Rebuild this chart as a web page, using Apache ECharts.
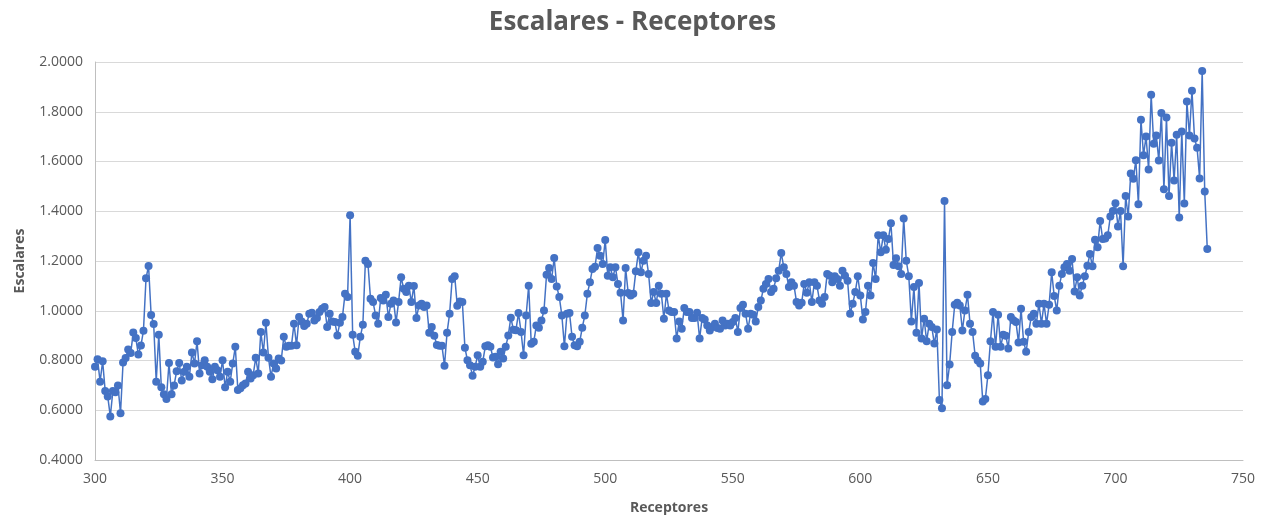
<!DOCTYPE html>
<html>
<head>
<meta charset="utf-8">
<script src="https://cdn.jsdelivr.net/npm/echarts@6/dist/echarts.min.js"></script>
<style>
  html, body { margin: 0; padding: 0; background: #ffffff; }
  #chart { width: 1265px; height: 520px; }
</style>
</head>
<body>
<div id="chart"></div>
<script>
// Receptor numbering starts at 300 and runs consecutively, one value per receptor.
const firstReceptor = 300;

// Escalar value for each receptor, ten receptors per row.
const escalares = [
  0.775, 0.805, 0.715, 0.797, 0.677, 0.655, 0.575, 0.677, 0.672, 0.700, // 300
  0.588, 0.792, 0.810, 0.844, 0.830, 0.913, 0.890, 0.824, 0.860, 0.920, // 310
  1.131, 1.180, 0.983, 0.947, 0.715, 0.904, 0.692, 0.664, 0.645, 0.790, // 320
  0.664, 0.700, 0.757, 0.790, 0.720, 0.755, 0.775, 0.735, 0.832, 0.788, // 330
  0.877, 0.748, 0.781, 0.801, 0.775, 0.755, 0.725, 0.775, 0.761, 0.735, // 340
  0.801, 0.692, 0.755, 0.715, 0.788, 0.855, 0.681, 0.688, 0.701, 0.708, // 350
  0.755, 0.728, 0.741, 0.811, 0.748, 0.915, 0.832, 0.952, 0.811, 0.735, // 360
  0.788, 0.768, 0.808, 0.800, 0.895, 0.855, 0.859, 0.859, 0.948, 0.861, // 370
  0.975, 0.957, 0.939, 0.948, 0.988, 0.992, 0.961, 0.971, 0.995, 1.008, // 380
  1.015, 0.935, 0.988, 0.957, 0.955, 0.901, 0.952, 0.975, 1.068, 1.055, // 390
  1.384, 0.904, 0.835, 0.819, 0.895, 0.944, 1.201, 1.188, 1.048, 1.035, // 400
  0.981, 0.948, 1.051, 1.041, 1.064, 0.975, 1.028, 1.041, 0.953, 1.035, // 410
  1.135, 1.088, 1.075, 1.101, 1.035, 1.099, 0.971, 1.021, 1.028, 1.015, // 420
  1.021, 0.912, 0.935, 0.900, 0.862, 0.859, 0.859, 0.779, 0.912, 0.988, // 430
  1.128, 1.139, 1.020, 1.037, 1.035, 0.851, 0.801, 0.781, 0.739, 0.775, // 440
  0.821, 0.775, 0.795, 0.857, 0.861, 0.855, 0.812, 0.815, 0.785, 0.835, // 450
  0.808, 0.855, 0.901, 0.972, 0.924, 0.922, 0.991, 0.915, 0.821, 0.981, // 460
  1.101, 0.867, 0.875, 0.941, 0.932, 0.961, 1.001, 1.145, 1.172, 1.128, // 470
  1.212, 1.097, 1.055, 0.981, 0.857, 0.988, 0.991, 0.895, 0.861, 0.857, // 480
  0.875, 0.932, 0.981, 1.068, 1.115, 1.168, 1.177, 1.252, 1.221, 1.188, // 490
  1.284, 1.141, 1.175, 1.135, 1.175, 1.108, 1.072, 0.961, 1.172, 1.071, // 500
  1.061, 1.068, 1.159, 1.235, 1.155, 1.201, 1.221, 1.148, 1.031, 1.075, // 510
  1.031, 1.101, 1.068, 0.968, 1.068, 1.001, 0.995, 0.995, 0.888, 0.957, // 520
  0.928, 1.011, 0.995, 0.995, 0.971, 0.971, 0.992, 0.888, 0.971, 0.965, // 530
  0.941, 0.921, 0.935, 0.948, 0.931, 0.928, 0.961, 0.941, 0.948, 0.941, // 540
  0.955, 0.971, 0.915, 1.011, 1.024, 0.988, 0.928, 0.988, 0.984, 0.957, // 550
  1.015, 1.041, 1.088, 1.108, 1.128, 1.075, 1.088, 1.131, 1.161, 1.232, // 560
  1.175, 1.148, 1.095, 1.115, 1.101, 1.035, 1.021, 1.032, 1.108, 1.072, // 570
  1.115, 1.035, 1.115, 1.101, 1.041, 1.028, 1.055, 1.148, 1.141, 1.115, // 580
  1.139, 1.128, 1.101, 1.161, 1.141, 1.121, 0.988, 1.028, 1.075, 1.139, // 590
  1.061, 0.965, 0.995, 1.101, 1.061, 1.192, 1.128, 1.304, 1.235, 1.304, // 600
  1.245, 1.288, 1.352, 1.184, 1.211, 1.179, 1.148, 1.371, 1.201, 1.139, // 610
  0.957, 1.095, 0.912, 1.112, 0.888, 0.968, 0.877, 0.948, 0.935, 0.868, // 620
  0.925, 0.641, 0.608, 1.441, 0.701, 0.784, 0.915, 1.024, 1.032, 1.021, // 630
  0.921, 1.001, 1.064, 0.948, 0.915, 0.819, 0.800, 0.788, 0.635, 0.645, // 640
  0.741, 0.877, 0.995, 0.855, 0.984, 0.855, 0.904, 0.900, 0.848, 0.975, // 650
  0.962, 0.955, 0.872, 1.008, 0.875, 0.835, 0.915, 0.975, 0.988, 0.948, // 660
  1.028, 0.948, 1.028, 0.948, 1.024, 1.155, 1.059, 1.001, 1.101, 1.148, // 670
  1.175, 1.188, 1.161, 1.208, 1.077, 1.135, 1.061, 1.101, 1.139, 1.181, // 680
  1.228, 1.179, 1.285, 1.255, 1.361, 1.288, 1.290, 1.304, 1.379, 1.401, // 690
  1.432, 1.339, 1.401, 1.179, 1.461, 1.379, 1.552, 1.531, 1.605, 1.428, // 700
  1.768, 1.625, 1.701, 1.568, 1.868, 1.671, 1.705, 1.604, 1.795, 1.488, // 710
  1.777, 1.461, 1.675, 1.524, 1.708, 1.375, 1.721, 1.431, 1.841, 1.705, // 720
  1.884, 1.692, 1.655, 1.532, 1.964, 1.479, 1.248                       // 730
];

// Axis ranges and tick steps
const xTicks = { min: 300, max: 750, step: 50 };
const yTicks = { min: 0.4, max: 2.0, step: 0.2 };

const points = escalares.map((v, i) => [firstReceptor + i, v]);

const textColor = '#595959';
const fontFamily = '"Open Sans", "Liberation Sans", sans-serif';

const chart = echarts.init(document.getElementById('chart'), null, { renderer: 'canvas' });
chart.setOption({
  animation: false,
  backgroundColor: '#ffffff',
  title: {
    text: 'Escalares - Receptores',
    left: 'center',
    top: 5,
    textStyle: { color: textColor, fontSize: 26, fontWeight: 'bold', fontFamily: fontFamily }
  },
  grid: { left: 95, right: 22, top: 62, bottom: 58 },
  xAxis: {
    type: 'value',
    min: xTicks.min,
    max: xTicks.max,
    interval: xTicks.step,
    name: 'Receptores',
    nameLocation: 'middle',
    nameGap: 41,
    nameTextStyle: { color: textColor, fontSize: 14, fontWeight: 'bold', fontFamily: fontFamily },
    axisLine: { show: true, lineStyle: { color: '#bfbfbf', width: 1 } },
    axisTick: { show: false },
    axisLabel: { color: textColor, fontSize: 14, margin: 12, fontFamily: fontFamily },
    splitLine: { show: false }
  },
  yAxis: {
    type: 'value',
    min: yTicks.min,
    max: yTicks.max,
    interval: yTicks.step,
    name: 'Escalares',
    nameLocation: 'middle',
    nameGap: 68,
    nameRotate: 90,
    nameTextStyle: { color: textColor, fontSize: 14, fontWeight: 'bold', fontFamily: fontFamily },
    axisLine: { show: true, lineStyle: { color: '#bfbfbf', width: 1 } },
    axisTick: { show: false },
    axisLabel: {
      color: textColor, fontSize: 14, margin: 12, fontFamily: fontFamily,
      formatter: v => v.toFixed(4)
    },
    splitLine: { show: true, lineStyle: { color: '#d9d9d9', width: 1 } }
  },
  series: [{
    type: 'line',
    data: points,
    symbol: 'circle',
    symbolSize: 8,
    showAllSymbol: true,
    lineStyle: { color: '#4472C4', width: 1.5 },
    itemStyle: { color: '#4472C4' }
  }]
});
</script>
</body>
</html>
